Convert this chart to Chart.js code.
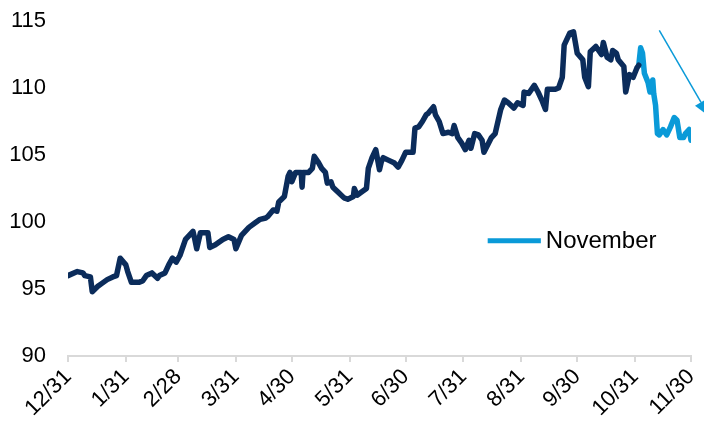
<!DOCTYPE html>
<html>
<head>
<meta charset="utf-8">
<style>
  html, body { margin: 0; padding: 0; background: #fff; }
  #wrap { width: 704px; height: 426px; }
</style>
<script src="https://cdn.jsdelivr.net/npm/chart.js@4/dist/chart.umd.min.js"></script>
</head>
<body>
<div id="wrap"><canvas id="myChart" width="704" height="426"></canvas></div>
<script>
// days since 12/31 and index level
let ytdDays = [0, 5, 8, 9, 12, 13, 16, 18, 21, 24, 26, 28, 31, 32, 34, 38, 40, 42, 45, 48, 49, 52, 54, 56, 58, 60,
  63, 67, 68, 69, 71, 75, 76, 79, 83, 86, 89, 90, 93, 97, 100, 103, 106, 107, 110, 112, 113, 116, 118, 119,
  120, 122, 125, 125.5, 126, 129, 131, 132, 134, 136, 138, 139, 141, 142, 145, 148, 150, 153, 153.5, 155, 157,
  160, 161, 163, 165, 167, 168, 169, 172, 175, 177, 179, 181, 185, 186, 188, 190, 192, 193, 196, 197, 199, 201,
  204, 206, 207, 209, 211, 213, 215, 216, 218, 220, 222, 223, 227, 229, 232, 234, 236, 239, 241, 244, 244.5,
  247, 250, 252, 254, 256, 257, 261, 263, 265, 266, 269, 271, 272, 273, 276, 277, 279, 280, 283, 286, 287,
  289, 291, 292, 294, 295, 298, 299, 301, 303, 305, 306]
let ytdValues = [96.0, 96.3, 96.2, 96.0, 95.9, 94.8, 95.2, 95.4, 95.7, 95.9, 96.0, 97.3, 96.8, 96.3, 95.5, 95.5, 95.6, 96.0, 96.2, 95.8, 96.0, 96.2, 96.8, 97.3, 97.0, 97.5,
  98.7, 99.3, 98.7, 98.0, 99.2, 99.2, 98.1, 98.3, 98.7, 98.9, 98.7, 98.0, 99.0, 99.6, 99.9, 100.2, 100.3, 100.4, 100.9, 100.8, 101.5, 101.9, 103.4, 103.7,
  103.0, 103.7, 103.7, 102.6, 103.7, 103.7, 104.0, 104.9, 104.5, 104.0, 103.7, 102.9, 103.0, 102.6, 102.2, 101.8, 101.7, 101.9, 102.5, 102.0, 102.2,
  102.5, 104.0, 104.8, 105.4, 103.9, 104.5, 104.8, 104.6, 104.4, 104.1, 104.6, 105.2, 105.2, 107.0, 107.1, 107.5, 108.0, 108.1, 108.6, 108.0, 107.5, 106.6,
  106.7, 106.6, 107.2, 106.3, 105.9, 105.4, 106.1, 105.5, 106.6, 106.5, 106.1, 105.2, 106.3, 106.6, 108.4, 109.1, 108.9, 108.5, 108.9, 108.7, 109.7,
  109.6, 110.2, 109.7, 109.1, 108.4, 109.9, 109.9, 110.0, 110.8, 113.2, 114.1, 114.2, 113.4, 112.6, 112.1, 110.8, 110.1, 112.7, 113.1, 112.5, 113.4,
  112.3, 112.1, 112.8, 112.6, 112.1, 111.6, 109.7, 111.0, 110.8, 111.5, 111.7]

let novDays = [306, 307, 308, 309, 311, 312, 313.5, 314, 315, 316, 317, 319, 321, 323, 325, 326.5, 328, 330, 331, 333, 334]
let novValues = [111.7, 113.0, 112.6, 111.1, 110.4, 109.7, 110.6, 109.6, 108.7, 106.6, 106.5, 106.9, 106.5, 107.1, 107.8, 107.6, 106.3, 106.3, 106.6, 106.9, 106.1]

let tickDays = [0, 31, 59, 90, 120, 151, 181, 212, 243, 273, 304, 334]
let tickLabels = ['12/31', '1/31', '2/28', '3/31', '4/30', '5/31', '6/30', '7/31', '8/31', '9/30', '10/31', '11/30']

let navy = '#0b2c5b'
let lightBlue = '#0a9ad8'
let font = "'Liberation Sans', Arial, sans-serif"

function pts(xs, ys) {
    return xs.map((x, i) => ({ x: x, y: ys[i] }))
}

// arrow + in-plot legend, placed with the chart's scales
let extras = {
    id: 'extras',
    afterDatasetsDraw(chart) {
        let c = chart.ctx
        let xs = chart.scales.x
        let ys = chart.scales.y

        // trend arrow
        let x1 = xs.getPixelForValue(317), y1 = ys.getPixelForValue(114.3)
        let x2 = xs.getPixelForValue(343.7), y2 = ys.getPixelForValue(107.9)
        let ang = Math.atan2(y2 - y1, x2 - x1)
        let head = 16, half = 7
        c.save()
        c.strokeStyle = lightBlue
        c.fillStyle = lightBlue
        c.lineWidth = 1.5
        c.beginPath()
        c.moveTo(x1, y1)
        c.lineTo(x2 - head * Math.cos(ang), y2 - head * Math.sin(ang))
        c.stroke()
        let bx = x2 - head * Math.cos(ang), by = y2 - head * Math.sin(ang)
        c.beginPath()
        c.moveTo(x2, y2)
        c.lineTo(bx + half * Math.sin(ang), by - half * Math.cos(ang))
        c.lineTo(bx - half * Math.sin(ang), by + half * Math.cos(ang))
        c.closePath()
        c.fill()

        // legend entry for November
        let ly = ys.getPixelForValue(98.6)
        let lx1 = xs.getPixelForValue(225), lx2 = xs.getPixelForValue(253.5)
        c.lineWidth = 5
        c.lineCap = 'butt'
        c.beginPath()
        c.moveTo(lx1, ly)
        c.lineTo(lx2, ly)
        c.stroke()
        c.fillStyle = '#000'
        c.font = '24px ' + font
        c.textBaseline = 'middle'
        c.textAlign = 'left'
        c.fillText(chart.data.datasets[1].label, lx2 + 5, ly + 1)
        c.restore()
    }
}

let ctx = document.getElementById('myChart').getContext('2d')

let chart = new Chart(ctx, {
    type: 'line',
    data: {
        datasets: [{
            label: 'YTD',
            data: pts(ytdDays, ytdValues),
            borderColor: navy,
            borderWidth: 5.5,
            pointRadius: 0,
            tension: 0,
            borderJoinStyle: 'round',
            borderCapStyle: 'round'
        }, {
            label: 'November',
            data: pts(novDays, novValues),
            borderColor: lightBlue,
            borderWidth: 5.5,
            pointRadius: 0,
            tension: 0,
            borderJoinStyle: 'round',
            borderCapStyle: 'round'
        }]
    },
    options: {
        responsive: false,
        animation: false,
        events: [],
        layout: { padding: { top: 21, right: 13, left: 0, bottom: 0 } },
        plugins: {
            legend: { display: false },
            tooltip: { enabled: false }
        },
        scales: {
            x: {
                type: 'linear',
                min: 0,
                max: 334,
                afterBuildTicks: (axis) => { axis.ticks = tickDays.map(v => ({ value: v })) },
                afterFit: (axis) => {
                    axis.height = 70
                    axis.paddingLeft = 0
                    axis.paddingRight = 0
                },
                grid: {
                    drawOnChartArea: false,
                    drawTicks: true,
                    tickLength: 6,
                    color: '#d9d9d9',
                    lineWidth: 2
                },
                border: { display: true, color: '#d9d9d9', width: 2 },
                ticks: {
                    autoSkip: false,
                    minRotation: 45,
                    maxRotation: 45,
                    padding: 2,
                    color: '#000',
                    font: { family: font, size: 22 },
                    callback: (v, i) => tickLabels[i]
                }
            },
            y: {
                min: 90,
                max: 115,
                afterFit: (axis) => {
                    axis.width = 68
                    axis.paddingTop = 0
                    axis.paddingBottom = 0
                },
                grid: { display: false, drawTicks: false },
                border: { display: false },
                ticks: {
                    stepSize: 5,
                    padding: 22,
                    color: '#000',
                    font: { family: font, size: 22 }
                }
            }
        }
    },
    plugins: [extras]
})
</script>
</body>
</html>
